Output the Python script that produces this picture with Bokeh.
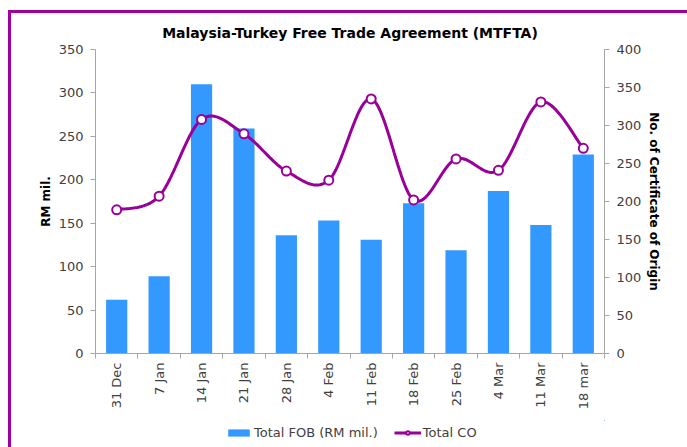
import numpy as np
from bokeh.plotting import figure
from bokeh.layouts import column
from bokeh.models import (Range1d, LinearAxis, FixedTicker, Legend, LegendItem)
from bokeh.embed import file_html
from bokeh.resources import INLINE

# ---- data ----
categories = ["31 Dec", "7 Jan", "14 Jan", "21 Jan", "28 Jan", "4 Feb",
              "11 Feb", "18 Feb", "25 Feb", "4 Mar", "11 Mar", "18 mar"]
total_fob = [62, 89, 310, 259, 136, 153, 131, 173, 119, 187, 148, 229]
total_co = [189, 207, 308, 289, 240, 228, 335, 202, 256, 241, 331, 270]
left_ticks = [0, 50, 100, 150, 200, 250, 300, 350]
right_ticks = [0, 50, 100, 150, 200, 250, 300, 350, 400]
series_names = ["Total FOB (RM mil.)", "Total CO"]

FONT = "DejaVu Sans"
PURPLE = "#990099"
FRAME = "#A000A0"
BLUE = "#3399FF"
AXIS_GRAY = "#A6A6A6"
TXT = "#404040"

idx = np.arange(len(categories), dtype=float)

p = figure(width=676, height=407, output_backend="svg", toolbar_location=None,
           x_range=Range1d(-0.5, len(categories) - 0.5),
           y_range=Range1d(0, 350),
           min_border_left=84, min_border_right=83,
           min_border_top=36, min_border_bottom=67)
p.extra_y_ranges = {"co": Range1d(0, 400)}
p.outline_line_color = None
p.grid.visible = False
p.background_fill_color = "white"
p.border_fill_color = "white"

p.title.text = "Malaysia-Turkey Free Trade Agreement (MTFTA)"
p.title.align = "center"
p.title.text_font = FONT
p.title.text_font_size = "14px"
p.title.text_font_style = "bold"
p.title.text_color = "black"
p.title.standoff = 17

# smooth line (Bezier through data points, Excel-like smoothing)
def smooth(xs, ys, n=24):
    P = np.column_stack([xs, ys]).astype(float)
    out = []
    m = len(P)
    for i in range(m - 1):
        p0 = P[i - 1] if i > 0 else P[i]
        p1 = P[i]
        p2 = P[i + 1]
        p3 = P[i + 2] if i + 2 < m else P[i + 1]
        c1 = p1 + (p2 - p0) / 6.0
        c2 = p2 - (p3 - p1) / 6.0
        t = np.linspace(0, 1, n, endpoint=(i == m - 2))[:, None]
        seg = ((1 - t) ** 3) * p1 + 3 * ((1 - t) ** 2) * t * c1 + 3 * (1 - t) * t ** 2 * c2 + t ** 3 * p2
        out.append(seg)
    arr = np.vstack(out)
    return arr[:, 0], arr[:, 1]

sx, sy = smooth(idx, total_co)


def draw_series(fig, y_name):
    kw = {} if y_name is None else {"y_range_name": y_name}
    b = fig.vbar(x=idx, top=total_fob, width=0.5, fill_color=BLUE, line_color=None)
    l = fig.line(sx, sy, line_color=PURPLE, line_width=3, **kw)
    m = fig.scatter(idx, total_co, size=9, fill_color="white", line_color=PURPLE,
                    line_width=2, **kw)
    return b, l, m

draw_series(p, "co")

# axes
def style_axis(ax):
    ax.axis_line_color = AXIS_GRAY
    ax.major_tick_line_color = AXIS_GRAY
    ax.minor_tick_line_color = AXIS_GRAY
    ax.major_label_text_font = FONT
    ax.major_label_text_font_size = "13px"
    ax.major_label_text_color = TXT
    ax.axis_label_text_font = FONT
    ax.axis_label_text_font_size = "12px"
    ax.axis_label_text_font_style = "bold"
    ax.axis_label_text_color = "black"

yl = p.yaxis[0]
style_axis(yl)
yl.ticker = FixedTicker(ticks=left_ticks)
yl.major_tick_out = 5
yl.major_tick_in = 0
yl.minor_tick_out = 0
yl.minor_tick_in = 0
yl.major_label_standoff = 7
yl.axis_label = "RM mil."
yl.axis_label_standoff = 3

yr = LinearAxis(y_range_name="co", ticker=FixedTicker(ticks=right_ticks))
style_axis(yr)
yr.major_tick_out = 5
yr.major_tick_in = 0
yr.minor_tick_out = 0
yr.minor_tick_in = 0
yr.major_label_standoff = 7
yr.axis_label = "No. of Certificate of Origin"
yr.axis_label_standoff = 3
p.add_layout(yr, "right")

xa = p.xaxis[0]
style_axis(xa)
xa.ticker = FixedTicker(ticks=list(idx), minor_ticks=list(np.arange(-0.5, len(categories), 1.0)))
xa.major_label_overrides = {float(i): c for i, c in enumerate(categories)}
xa.major_tick_line_color = None
xa.major_tick_out = 0
xa.major_tick_in = 0
xa.minor_tick_out = 5
xa.minor_tick_in = 0
xa.major_label_orientation = np.pi / 2
xa.major_label_standoff = 4

# legend strip: a small figure whose frame holds only the legend
# (the series are drawn there too, but its ranges keep them out of view)
lg = figure(width=676, height=24, output_backend="svg", toolbar_location=None,
            x_range=Range1d(-100, -99), y_range=Range1d(-100, -99),
            x_axis_location=None, y_axis_location=None,
            min_border_left=0, min_border_right=0, min_border_top=0, min_border_bottom=0)
lg.outline_line_color = None
lg.grid.visible = False
r_bar, r_line, r_mark = draw_series(lg, None)
legend = Legend(items=[LegendItem(label=series_names[0], renderers=[r_bar]),
                       LegendItem(label=series_names[1], renderers=[r_line, r_mark])],
                orientation="horizontal", location=(130, 4),
                label_text_font=FONT, label_text_font_size="13px", label_text_color=TXT,
                glyph_width=27, glyph_height=9, label_standoff=2, spacing=16,
                padding=0, margin=0, border_line_color=None, background_fill_alpha=0)
lg.add_layout(legend)

layout = column(p, lg, spacing=0)

html = file_html(layout, INLINE)
css = ("<style>body{margin:10px 0 0 8px;border-left:3px solid %s;"
       "border-top:3px solid %s;overflow:hidden;}</style>" % (FRAME, FRAME))
html = html.replace("</head>", css + "</head>", 1)
open("out.html", "w").write(html)
